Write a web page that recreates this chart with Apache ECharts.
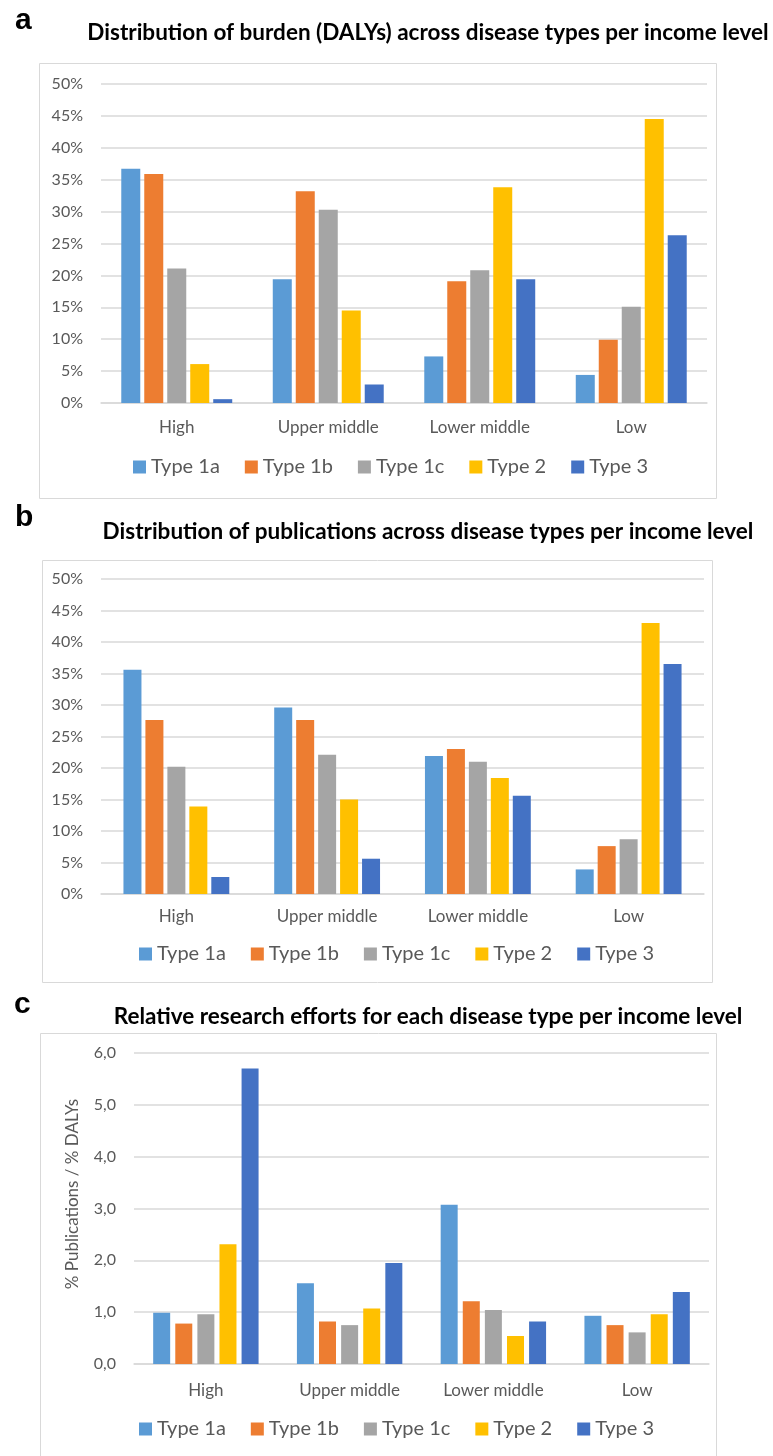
<!DOCTYPE html>
<html>
<head>
<meta charset="utf-8">
<script src="https://cdn.jsdelivr.net/npm/echarts@6/dist/echarts.min.js"></script>
<style>
  html, body { margin: 0; padding: 0; background: #fff; }
  #chart { width: 773px; height: 1456px; }
</style>
</head>
<body>
<div id="chart"></div>
<script>
const categories = ['High', 'Upper middle', 'Lower middle', 'Low']
const types = ['Type 1a', 'Type 1b', 'Type 1c', 'Type 2', 'Type 3']
const colors = ['#5B9BD5', '#ED7D31', '#A5A5A5', '#FFC000', '#4472C4']

// a: share of DALYs (%) per type, across income levels
const dalys1a = [36.7, 19.4, 7.3, 4.4]
const dalys1b = [35.9, 33.2, 19.1, 9.9]
const dalys1c = [21.1, 30.3, 20.8, 15.1]
const dalys2 = [6.1, 14.5, 33.8, 44.5]
const dalys3 = [0.6, 2.9, 19.4, 26.3]

// b: share of publications (%)
const pubs1a = [35.6, 29.6, 21.9, 3.9]
const pubs1b = [27.6, 27.6, 23.0, 7.6]
const pubs1c = [20.2, 22.1, 21.0, 8.7]
const pubs2 = [13.9, 15.0, 18.4, 43.0]
const pubs3 = [2.7, 5.6, 15.6, 36.5]

// c: % publications / % DALYs
const ratio1a = [0.99, 1.56, 3.07, 0.93]
const ratio1b = [0.78, 0.82, 1.21, 0.75]
const ratio1c = [0.96, 0.75, 1.04, 0.61]
const ratio2 = [2.31, 1.07, 0.54, 0.96]
const ratio3 = [5.70, 1.95, 0.82, 1.39]

const panels = [
  { data: [dalys1a, dalys1b, dalys1c, dalys2, dalys3], barWidth: 19, barGap: '21%' },
  { data: [pubs1a, pubs1b, pubs1c, pubs2, pubs3], barWidth: 18, barGap: '22%' },
  { data: [ratio1a, ratio1b, ratio1c, ratio2, ratio3], barWidth: 17, barGap: '30%' }
]

const font = 'Lato'
const grey = '#595959'
const lineGrey = '#d9d9d9'

function xAx (gridIndex, margin) {
  return {
    type: 'category',
    gridIndex,
    data: categories,
    axisTick: { show: false },
    axisLine: { lineStyle: { color: lineGrey, width: 1.5 } },
    axisLabel: { color: grey, fontFamily: font, fontSize: 17, margin }
  }
}

function yAx (gridIndex, max, interval, fmt) {
  return {
    type: 'value',
    gridIndex,
    min: 0,
    max,
    interval,
    axisLine: { show: false },
    axisTick: { show: false },
    splitLine: { lineStyle: { color: lineGrey, width: 1.5 } },
    axisLabel: { color: grey, fontFamily: font, fontSize: 16, margin: 18, formatter: fmt }
  }
}

const pct = v => v + '%'
const comma = v => v.toFixed(1).replace('.', ',')

const series = []
panels.forEach((p, pi) => {
  p.data.forEach((vals, ti) => {
    series.push({
      name: types[ti],
      type: 'bar',
      xAxisIndex: pi,
      yAxisIndex: pi,
      data: vals,
      barWidth: p.barWidth,
      barGap: p.barGap,
      itemStyle: { color: colors[ti] }
    })
  })
})

function legend (left, top) {
  return {
    data: types,
    left,
    top,
    icon: 'rect',
    itemWidth: 13,
    itemHeight: 13,
    itemGap: 25,
    textStyle: { color: grey, fontFamily: font, fontSize: 20 }
  }
}

function box (x, y, w, h) {
  return {
    type: 'rect',
    shape: { x, y, width: w, height: h },
    style: { fill: 'none', stroke: lineGrey, lineWidth: 1 },
    z: -1
  }
}

function heading (text, x, y) {
  return {
    type: 'text',
    x,
    y,
    style: {
      text,
      fill: '#000',
      font: 'bold 22.5px Lato',
      textAlign: 'center',
      textVerticalAlign: 'middle'
    }
  }
}

function letter (text, x, y) {
  return {
    type: 'text',
    x,
    y,
    style: { text, fill: '#000', font: 'bold 30px "Liberation Sans"', textVerticalAlign: 'bottom' }
  }
}

const option = {
  animation: false,
  textStyle: { fontFamily: font },
  grid: [
    { left: 101, top: 84, width: 606, height: 319 },
    { left: 101, top: 579, width: 603, height: 315 },
    { left: 134, top: 1053, width: 575, height: 311 }
  ],
  xAxis: [xAx(0, 16), xAx(1, 14), xAx(2, 18)],
  yAxis: [
    yAx(0, 50, 5, pct),
    yAx(1, 50, 5, pct),
    yAx(2, 6, 1, comma)
  ],
  legend: [legend(128, 452), legend(134, 939), legend(134, 1414)],
  graphic: [
    box(39.5, 63.5, 677, 435),
    box(42.5, 560.5, 670, 422),
    box(40.5, 1033.5, 676, 430),
    letter('a', 15, 36),
    letter('b', 15, 533),
    letter('c', 14, 1020),
    heading('Distribution of burden (DALYs) across disease types per income level', 428, 33),
    heading('Distribution of publications across disease types per income level', 428, 532),
    heading('Relative research efforts for each disease type per income level', 428, 1017),
    {
      type: 'text',
      x: 73,
      y: 1194,
      rotation: Math.PI / 2,
      style: {
        text: '% Publications / % DALYs',
        fill: grey,
        font: '17px Lato',
        textAlign: 'center',
        textVerticalAlign: 'middle'
      }
    }
  ],
  series
}

const myChart = echarts.init(document.getElementById('chart'))
myChart.setOption(option)
</script>
</body>
</html>
